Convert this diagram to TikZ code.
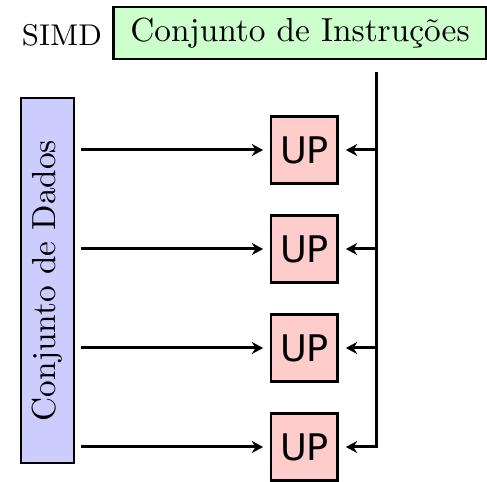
\documentclass[tikz,border=0pt]{standalone}
\usepackage{fontspec}
\newfontfamily\upfont{DejaVu Sans}
\usetikzlibrary{positioning, arrows.meta}
\tikzset{
    >={Stealth[length=3.4pt, width=3.6pt]}, % arrow heads
    line/.style={line width=0.9pt}, % every connector
    instbox/.style={draw, line width=0.8pt, fill=green!20, minimum width=112pt, minimum height=15.6pt, inner sep=0pt}, % the instruction set
    databox/.style={draw, line width=0.8pt, fill=blue!20, rotate=90, minimum width=109.5pt, minimum height=15.9pt, inner sep=0pt}, % the data set
    upbox/.style={draw, line width=0.8pt, fill=red!20, minimum size=20pt, inner sep=0pt, font=\upfont\fontsize{11}{11}\selectfont}, % processing units
}

\begin{document}
\begin{tikzpicture}[x=0.3pt, y=-0.3pt]
    \useasboundingbox (0,0) rectangle (487,482);
    \node (simd) at (62,35) {\fontsize{9}{10}\selectfont SIMD};
    \node[instbox] (inst) at (300,33) {Conjunto de Instruções};
    \node[databox] (dados) at (47.5,280.5) {Conjunto de Dados};
    \node[upbox] (up1) at (304.5,150) {UP};
    \foreach \i [remember=\i as \j (initially 1)] in {2,3,4}
        \node[upbox, below=8.9pt of up\j] (up\i) {UP};
    \coordinate (bus) at (377,72);
    \draw[line, ->, shorten >=2pt] (bus) -- (bus |- up4) -- (up4);
    \foreach \i in {1,2,3}
        \draw[line, ->, shorten >=2pt] (bus |- up\i) -- (up\i);
    \foreach \i in {1,...,4}
        \draw[line, ->, shorten <=1.8pt, shorten >=2pt] (dados.south |- up\i) -- (up\i);
\end{tikzpicture}
\end{document}
